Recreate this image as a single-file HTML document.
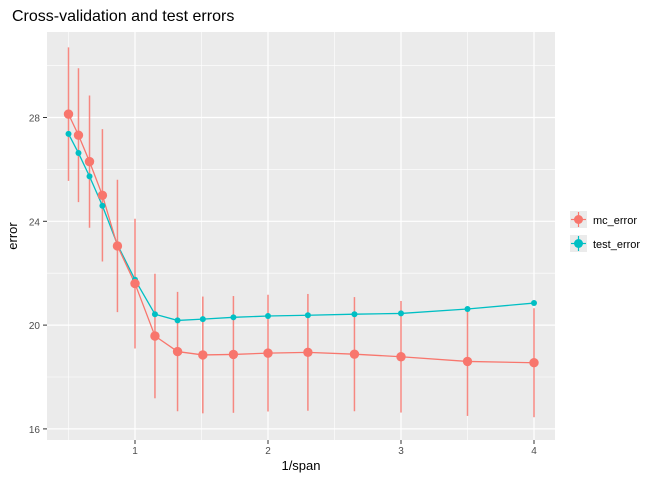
<!DOCTYPE html>
<html><head><meta charset="utf-8"><style>
body{margin:0;background:#fff;font-family:"Liberation Sans",sans-serif;}
</style></head><body>
<svg id="chart" width="672" height="480" xmlns="http://www.w3.org/2000/svg" font-family="Liberation Sans, sans-serif">
<text x="12" y="21" font-size="16" fill="#000">Cross-validation and test errors</text>
<rect x="47" y="32" width="508" height="408" fill="#ebebeb"/>
<g id="grid"></g>
<g id="marks"></g>
<g id="axes"></g>
<text x="301" y="470" font-size="13" text-anchor="middle">1/span</text>
<text transform="translate(17,236) rotate(-90)" font-size="13" text-anchor="middle">error</text>
<g>
<text x="570" y="200" font-size="12"></text>
<rect x="570" y="211" width="17" height="17" fill="#ebebeb"/>
<line x1="578.5" y1="212" x2="578.5" y2="227" stroke="#F8766D" stroke-width="1.2"/>
<line x1="571" y1="219.5" x2="586" y2="219.5" stroke="#F8766D" stroke-width="1.2"/>
<circle cx="578.5" cy="219.5" r="4.5" fill="#F8766D"/>
<text x="593" y="224" font-size="11">mc_error</text>
<rect x="570" y="235" width="17" height="17" fill="#ebebeb"/>
<line x1="578.5" y1="236" x2="578.5" y2="251" stroke="#00BFC4" stroke-width="1.2"/>
<line x1="571" y1="243.5" x2="586" y2="243.5" stroke="#00BFC4" stroke-width="1.2"/>
<circle cx="578.5" cy="243.5" r="4.5" fill="#00BFC4"/>
<text x="593" y="248" font-size="11">test_error</text>
</g>
</svg>
<script>
const invSpan = [0.5,0.575,0.658,0.755,0.868,1.0,1.15,1.32,1.51,1.74,2.0,2.3,2.65,3.0,3.5,4.0];
const mcError = [28.13,27.32,26.3,25.0,23.05,21.6,19.58,18.98,18.85,18.87,18.92,18.95,18.88,18.78,18.6,18.55];
const mcSe = [2.57,2.58,2.55,2.55,2.55,2.5,2.4,2.3,2.25,2.25,2.25,2.25,2.2,2.15,2.1,2.1];
const testError = [27.37,26.63,25.73,24.6,23.1,21.75,20.42,20.18,20.23,20.3,20.35,20.38,20.42,20.45,20.62,20.85];
const xTicks = [1,2,3,4];
const xMinor = [0.5,1.5,2.5,3.5];
const yTicks = [16,20,24,28];
const yMinor = [18,22,26,30];
const X = v => 135 + (v-1)*133;
const Y = v => 221.3 - (v-24)*25.95;
const NS="http://www.w3.org/2000/svg";
function mk(parent,tag,attrs){const e=document.createElementNS(NS,tag);for(const k in attrs)e.setAttribute(k,attrs[k]);parent.appendChild(e);return e;}
const grid=document.getElementById('grid'),marks=document.getElementById('marks'),axes=document.getElementById('axes');
yMinor.forEach(v=>{const l=mk(grid,'line',{x1:47,x2:555,y1:Y(v),y2:Y(v),stroke:'#fff','stroke-width':0.6});

});
xMinor.forEach(v=>{const l=mk(grid,'line',{x1:X(v),x2:X(v),y1:32,y2:440,stroke:'#fff','stroke-width':0.6});

});
yTicks.forEach(v=>{const l=mk(grid,'line',{x1:47,x2:555,y1:Y(v),y2:Y(v),stroke:'#fff','stroke-width':1.2});


mk(axes,'line',{x1:43,x2:47,y1:Y(v),y2:Y(v),stroke:'#333','stroke-width':1});
const t=mk(axes,'text',{x:40,y:Y(v)+4,'font-size':10,'text-anchor':'end',fill:'#4d4d4d'});t.textContent=v;

});
xTicks.forEach(v=>{const l=mk(grid,'line',{x1:X(v),x2:X(v),y1:32,y2:440,stroke:'#fff','stroke-width':1.2});


mk(axes,'line',{x1:X(v),x2:X(v),y1:440,y2:444,stroke:'#333','stroke-width':1});
const t=mk(axes,'text',{x:X(v),y:454,'font-size':10,'text-anchor':'middle',fill:'#4d4d4d'});t.textContent=v;

});
// error bars
invSpan.forEach((x,i)=>{const l=mk(marks,'line',{x1:X(x),x2:X(x),y1:Y(mcError[i]+mcSe[i]),y2:Y(mcError[i]-mcSe[i]),stroke:'#F8766D','stroke-width':1.5,'stroke-opacity':0.85});

});
const tl=mk(marks,'polyline',{points:invSpan.map((x,i)=>X(x)+','+Y(testError[i])).join(' '),fill:'none',stroke:'#00BFC4','stroke-width':1.3});


const ml=mk(marks,'polyline',{points:invSpan.map((x,i)=>X(x)+','+Y(mcError[i])).join(' '),fill:'none',stroke:'#F8766D','stroke-width':1.3});


invSpan.forEach((x,i)=>{const c=mk(marks,'circle',{cx:X(x),cy:Y(testError[i]),r:3,fill:'#00BFC4'});

});
invSpan.forEach((x,i)=>{const c=mk(marks,'circle',{cx:X(x),cy:Y(mcError[i]),r:4.7,fill:'#F8766D'});

});
</script>
</body></html>
